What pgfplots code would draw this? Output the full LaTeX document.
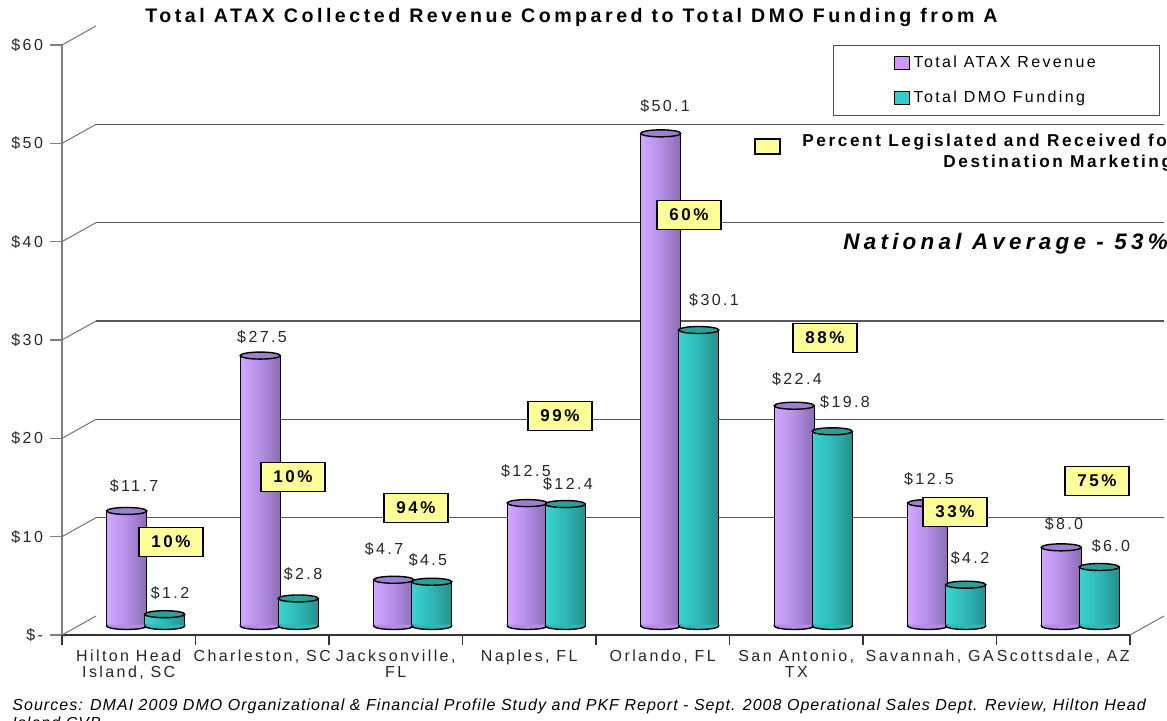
\documentclass[border=0pt]{standalone}
\usepackage{fontspec}
\setmainfont{Liberation Sans}[LetterSpace=15]
\newfontfamily\titlefont{Liberation Sans}[LetterSpace=18]
\newfontfamily\natfont{Liberation Sans}[LetterSpace=19]
\newfontfamily\srcfont{Liberation Sans}[LetterSpace=6.5]
\usepackage{pgfplots}
\usepackage{pgfplotstable}
\pgfplotsset{compat=1.18}
\definecolor{purL}{HTML}{D3A8FF}
\definecolor{purM}{HTML}{B48EE6}
\definecolor{purD}{HTML}{8A6CB3}
\definecolor{purT}{HTML}{9D80D3}
\definecolor{teaL}{HTML}{3AD4D0}
\definecolor{teaM}{HTML}{2FB8B5}
\definecolor{teaD}{HTML}{248F8C}
\definecolor{teaT}{HTML}{2E9E9B}
\definecolor{yel}{HTML}{FFFF99}
\definecolor{legP}{HTML}{CC99FF}
\definecolor{legT}{HTML}{33CCCC}

\pgfdeclareplotmark{cylbot}{%
  \pgfpathmoveto{\pgfpoint{-\pgfplotmarksize}{0.7pt}}%
  \pgfpathlineto{\pgfpoint{-\pgfplotmarksize}{0pt}}%
  \pgfpatharc{180}{360}{\pgfplotmarksize and 1.75pt}%
  \pgfpathlineto{\pgfpoint{\pgfplotmarksize}{0.7pt}}%
  \pgfpathclose
  \pgfusepathqfill
  \pgfpathmoveto{\pgfpoint{-\pgfplotmarksize}{0.7pt}}%
  \pgfpathlineto{\pgfpoint{-\pgfplotmarksize}{0pt}}%
  \pgfpatharc{180}{360}{\pgfplotmarksize and 1.75pt}%
  \pgfpathlineto{\pgfpoint{\pgfplotmarksize}{0.7pt}}%
  \pgfusepathqstroke
}

\newcommand{\cylP}[2]{\addplot[forget plot, ybar, bar width=20pt, bar shift=-9.5pt, draw=black,
  line width=0.7pt, left color=purL, right color=purD, middle color=purM] coordinates {(#1,#2)};}
\newcommand{\cylT}[2]{\addplot[forget plot, ybar, bar width=20pt, bar shift=9.5pt, draw=black,
  line width=0.7pt, left color=teaL, right color=teaD, middle color=teaM] coordinates {(#1,#2)};}

\pgfplotstableread{
x y v
-0.088 14.24 11.7
0.871 29.39 27.5
1.785 7.83 4.7
2.848 15.76 12.5
3.890 52.88 50.1
4.878 25.12 22.4
5.867 14.95 12.5
6.878 10.37 8.0
}\labA
\pgfplotstableread{
x y v
0.182 3.36 1.2
1.178 5.29 2.8
2.114 6.71 4.5
3.163 14.44 12.4
4.257 33.15 30.1
5.238 22.78 19.8
6.174 6.92 4.2
7.230 8.14 6.0
}\labD
\pgfplotstableread{
x y p
0.189 8.54 10
1.103 15.15 10
2.024 12.0 94
3.103 21.36 99
4.069 41.8 60
5.088 29.29 88
6.062 11.59 33
7.125 14.75 75
}\pct

\begin{document}
\begin{tikzpicture}[x=0.5pt,y=0.5pt]
\useasboundingbox (0,0) rectangle (1167,721);

% back wall grid
\begin{axis}[at={(48pt,52.5pt)}, anchor=south west, scale only axis,
  width=534pt, height=295pt, xmin=-0.5, xmax=7.5, ymin=0, ymax=60,
  axis line style={draw=none}, xtick=\empty, ytick={10,20,30,40,50},
  yticklabels={}, ytick style={draw=none},
  ymajorgrids, major grid style={black!65, line width=0.6pt}]
\end{axis}

% front axis with ticks and labels
\begin{axis}[at={(31pt,43pt)}, anchor=south west, scale only axis,
  width=534pt, height=295pt, xmin=-0.5, xmax=7.5, ymin=0, ymax=60,
  axis x line*=bottom, axis y line*=left,
  x axis line style={black!80, line width=0.7pt, -},
  y axis line style={black!50, line width=0.7pt, -},
  tick align=outside, major tick length=6pt,
  ytick={0,10,...,60},
  yticklabels={\$-,\$10,\$20,\$30,\$40,\$50,\$60},
  ytick style={black!50, line width=0.7pt},
  xtick={0,...,7},
  xticklabels={{Hilton Head\\Island, SC},{Charleston, SC},{Jacksonville,\\FL},{Naples, FL},{Orlando, FL},{San Antonio,\\TX},{Savannah, GA},{Scottsdale, AZ}},
  xtick style={draw=none},
  extra x ticks={-0.5,0.5,...,7.5}, extra x tick labels={},
  extra x tick style={xtick style={draw=black!80, line width=0.7pt}, major tick length=5pt},
  tick label style={font=\fontsize{8}{8}\selectfont, text=black!85},
  xticklabel style={align=center, anchor=north, yshift=2pt},
  /pgf/number format/assume math mode=true]
\end{axis}

% depth diagonals
\foreach \v in {0,...,6}
  \draw[black!55, line width=0.5pt] (62,{86+98.333*\v}) -- ++(34,19);
\draw[black!55, line width=0.5pt] (1130,86) -- ++(34,19);

% bars
\begin{axis}[at={(39.5pt,47.5pt)}, anchor=south west, scale only axis,
  width=534pt, height=295pt, xmin=-0.5, xmax=7.5, ymin=0, ymax=60,
  hide axis, clip=false,
  /pgf/number format/assume math mode=true,
  legend style={at={(0.706,0.985)}, anchor=north west, draw=black!70,
    line width=0.6pt, font=\fontsize{8}{9}\selectfont, inner xsep=30pt,
    inner ysep=3pt, row sep=6.5pt, legend cell align=left}]
\addlegendimage{legend image code/.code={\draw[draw=black, fill=legP, line width=0.5pt] (0pt,-3.2pt) rectangle (7.5pt,3.3pt);}}
\addlegendentry{Total ATAX Revenue}
\addlegendimage{legend image code/.code={\draw[draw=black, fill=legT, line width=0.5pt] (0pt,-3.2pt) rectangle (7.5pt,3.3pt);}}
\addlegendentry{Total DMO Funding}

% ATAX cylinders
\cylP{0}{11.7}\cylP{1}{27.5}\cylP{2}{4.7}\cylP{3}{12.5}
\cylP{4}{50.1}\cylP{5}{22.4}\cylP{6}{12.5}\cylP{7}{8.0}
\addplot[forget plot, only marks, mark=cylbot, mark size=10pt,
  mark options={xshift=-9.5pt, fill=purM, draw=black, line width=0.7pt}]
  coordinates {(0,0) (1,0) (2,0) (3,0) (4,0) (5,0) (6,0) (7,0)};
\addplot[forget plot, only marks, mark=*, mark size=10pt,
  mark options={xshift=-9.5pt, yscale=0.175, fill=purT, draw=black, line width=0.7pt}]
  coordinates {(0,11.7) (1,27.5) (2,4.7) (3,12.5) (4,50.1) (5,22.4) (6,12.5) (7,8.0)};

% DMO cylinders
\cylT{0}{1.2}\cylT{1}{2.8}\cylT{2}{4.5}\cylT{3}{12.4}
\cylT{4}{30.1}\cylT{5}{19.8}\cylT{6}{4.2}\cylT{7}{6.0}
\addplot[forget plot, only marks, mark=cylbot, mark size=10pt,
  mark options={xshift=9.5pt, fill=teaM, draw=black, line width=0.7pt}]
  coordinates {(0,0) (1,0) (2,0) (3,0) (4,0) (5,0) (6,0) (7,0)};
\addplot[forget plot, only marks, mark=*, mark size=10pt,
  mark options={xshift=9.5pt, yscale=0.175, fill=teaT, draw=black, line width=0.7pt}]
  coordinates {(0,1.2) (1,2.8) (2,4.5) (3,12.4) (4,30.1) (5,19.8) (6,4.2) (7,6.0)};

% value labels
\addplot[forget plot, only marks, mark=none, point meta=explicit,
  nodes near coords={\$\pgfmathprintnumber[fixed,fixed zerofill,precision=1]{\pgfplotspointmeta}},
  nodes near coords align={center},
  every node near coord/.append style={font=\fontsize{8}{9}\selectfont, text=black!85}]
  table[x=x, y=y, meta=v] {\labA};
\addplot[forget plot, only marks, mark=none, point meta=explicit,
  nodes near coords={\$\pgfmathprintnumber[fixed,fixed zerofill,precision=1]{\pgfplotspointmeta}},
  nodes near coords align={center},
  every node near coord/.append style={font=\fontsize{8}{9}\selectfont, text=black!85}]
  table[x=x, y=y, meta=v] {\labD};

% percent boxes
\addplot[forget plot, only marks, mark=none, point meta=explicit,
  nodes near coords={\pgfmathprintnumber{\pgfplotspointmeta}\%},
  nodes near coords align={center},
  every node near coord/.append style={font=\bfseries\fontsize{8.5}{9}\selectfont,
    fill=yel, draw=black, line width=0.8pt, minimum width=32pt,
    minimum height=14.5pt, inner sep=0pt}]
  table[x=x, y=y, meta=p] {\pct};
\end{axis}

% percent legend
\draw[fill=yel, draw=black, line width=0.8pt] (755,567) rectangle (780,582);
\node[anchor=west, inner sep=0pt, font=\bfseries\fontsize{8.6}{9}\selectfont] at (802,579) {Percent Legislated and Received for};
\node[anchor=west, inner sep=0pt, font=\bfseries\fontsize{8.6}{9}\selectfont] at (943,558) {Destination Marketing};
\node[anchor=west, inner sep=0pt, font=\natfont\bfseries\itshape\fontsize{11.2}{12}\selectfont] at (843,477) {National Average - 53\%};

% title
\begin{scope}
\clip (0,680) rectangle (997,721);
\node[anchor=west, inner sep=0pt, font=\titlefont\bfseries\fontsize{9.8}{10}\selectfont] at (145,704) {Total ATAX Collected Revenue Compared to Total DMO Funding from ATAX};
\end{scope}

% source
\node[anchor=west, inner sep=0pt, font=\srcfont\itshape\fontsize{8}{9}\selectfont] at (12,15) {Sources: DMAI 2009 DMO Organizational \& Financial Profile Study and PKF Report - Sept. 2008 Operational Sales Dept. Review, Hilton Head};
\node[anchor=west, inner sep=0pt, font=\srcfont\itshape\fontsize{8}{9}\selectfont] at (12,-2) {Island CVB};
\end{tikzpicture}
\end{document}
